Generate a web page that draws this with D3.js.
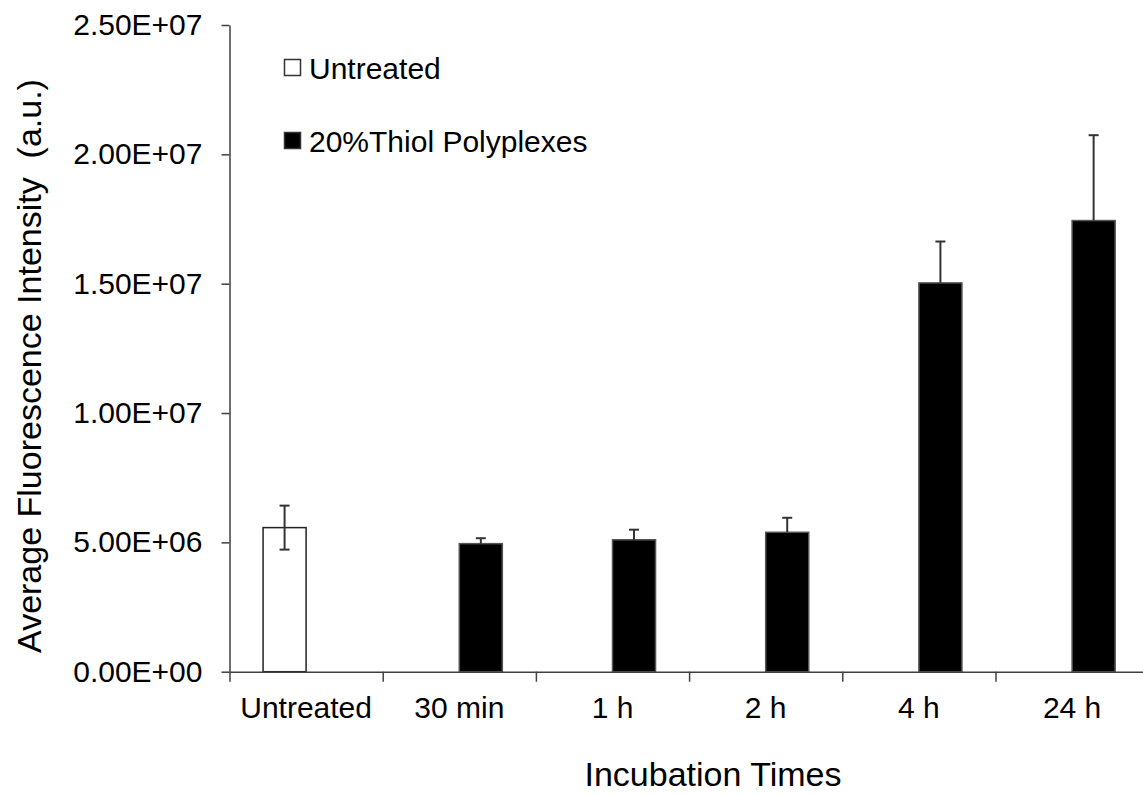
<html>
<head>
<meta charset="utf-8">
<script src="https://d3js.org/d3.v7.min.js"></script>
<style>
  body { margin: 0; background: #fff; }
  text { font-family: "Liberation Sans", Arial, sans-serif; fill: #000; }
</style>
</head>
<body>
<script type="text/javascript">

// data
var categories = ["Untreated", "30 min", "1 h", "2 h", "4 h", "24 h"];
var series = ["Untreated", "20%Thiol Polyplexes"];
var untreatedValues = [5.57e6, null, null, null, null, null];
var untreatedErrors = [0.85e6, null, null, null, null, null];
var thiolValues = [null, 4.95e6, 5.10e6, 5.39e6, 15.03e6, 17.44e6];
var thiolErrors = [null, 0.21e6, 0.39e6, 0.56e6, 1.60e6, 3.30e6];
var yTicks = [0, 5e6, 1e7, 1.5e7, 2e7, 2.5e7];
var yTickLabels = ["0.00E+00", "5.00E+06", "1.00E+07", "1.50E+07", "2.00E+07", "2.50E+07"];

var width = 1143, height = 795;
var axisColor = "#404040";

var svg = d3.select("body").append("svg")
    .attr("width", width)
    .attr("height", height);

var x0 = d3.scaleBand()
    .domain(categories)
    .range([229.5, 1148.7])
    .padding(0);

var x1 = d3.scaleBand()
    .domain(series)
    .range([0, x0.bandwidth()])
    .paddingInner(0)
    .paddingOuter(0.78);

var xEdge = d3.scaleLinear()
    .domain([0, categories.length])
    .range(x0.range());

var y = d3.scaleLinear()
    .domain([0, 2.5e7])
    .range([671.7, 25]);

// build rows
var rows = [];
categories.forEach(function(c, i) {
  if (untreatedValues[i] != null) rows.push({cat: c, s: series[0], v: untreatedValues[i], e: untreatedErrors[i], fill: "#fff", stroke: "#222"});
  if (thiolValues[i] != null) rows.push({cat: c, s: series[1], v: thiolValues[i], e: thiolErrors[i], fill: "#000", stroke: "#555"});
});

// bars
svg.append("g").selectAll("rect")
    .data(rows)
  .enter().append("rect")
    .attr("x", function(d) { return x0(d.cat) + x1(d.s); })
    .attr("y", function(d) { return y(d.v); })
    .attr("width", x1.bandwidth())
    .attr("height", function(d) { return y(0) - y(d.v); })
    .attr("fill", function(d) { return d.fill; })
    .attr("stroke", function(d) { return d.stroke; })
    .attr("stroke-width", 1.5);

// error bars
var err = svg.append("g")
    .attr("stroke", "#333")
    .attr("stroke-width", 2)
  .selectAll("g")
    .data(rows)
  .enter().append("g");

function cx(d) { return x0(d.cat) + x1(d.s) + x1.bandwidth() / 2; }

err.append("line")
    .attr("x1", cx).attr("x2", cx)
    .attr("y1", function(d) { return y(d.v - (d.fill == "#fff" ? d.e : 0)); })
    .attr("y2", function(d) { return y(d.v + d.e); });

err.append("line")
    .attr("x1", function(d) { return cx(d) - 5; })
    .attr("x2", function(d) { return cx(d) + 5; })
    .attr("y1", function(d) { return y(d.v + d.e); })
    .attr("y2", function(d) { return y(d.v + d.e); });

err.filter(function(d) { return d.fill == "#fff"; })
  .append("line")
    .attr("x1", function(d) { return cx(d) - 5; })
    .attr("x2", function(d) { return cx(d) + 5; })
    .attr("y1", function(d) { return y(d.v - d.e); })
    .attr("y2", function(d) { return y(d.v - d.e); });

// y axis
var yAxis = svg.append("g")
    .attr("transform", "translate(229.5,0)")
    .call(d3.axisLeft(y)
      .tickValues(yTicks)
      .tickFormat(function(d, i) { return yTickLabels[i]; })
      .tickSize(8)
      .tickSizeOuter(0)
      .tickPadding(19));

// x axis: tick marks on category edges
var xAxisEdges = svg.append("g")
    .attr("transform", "translate(0,671.7)")
    .call(d3.axisBottom(xEdge)
      .tickValues(d3.range(categories.length + 1))
      .tickFormat("")
      .tickSize(10)
      .tickSizeOuter(0));

// x axis labels
var xAxisLabels = svg.append("g")
    .attr("transform", "translate(0,671.7)")
    .call(d3.axisBottom(x0).tickSize(0).tickPadding(25));
xAxisLabels.select(".domain").remove();

svg.selectAll(".domain, .tick line")
    .attr("stroke", axisColor)
    .attr("stroke-width", 1.5);
svg.selectAll(".tick text")
    .attr("font-family", "Liberation Sans, Arial, sans-serif")
    .attr("font-size", 30)
    .attr("fill", "#000");

// axis titles
svg.append("text")
    .attr("x", 713)
    .attr("y", 786)
    .attr("text-anchor", "middle")
    .attr("font-size", 34)
    .text("Incubation Times");

svg.append("text")
    .attr("transform", "translate(41,366) rotate(-90)")
    .attr("text-anchor", "middle")
    .attr("font-size", 34)
    .style("white-space", "pre")
    .text("Average Fluorescence Intensity  (a.u.)");

// legend
var legendFill = ["#fff", "#000"];
var legend = svg.append("g").selectAll("g")
    .data(series)
  .enter().append("g")
    .attr("transform", function(d, i) { return "translate(284.5," + (59.5 + i * 73) + ")"; });

legend.append("rect")
    .attr("width", 16)
    .attr("height", 16)
    .attr("fill", function(d, i) { return legendFill[i]; })
    .attr("stroke", "#333")
    .attr("stroke-width", 1.5);

legend.append("text")
    .attr("x", 24.5)
    .attr("y", 19.5)
    .attr("font-size", 30)
    .text(function(d) { return d; });

</script>
</body>
</html>
